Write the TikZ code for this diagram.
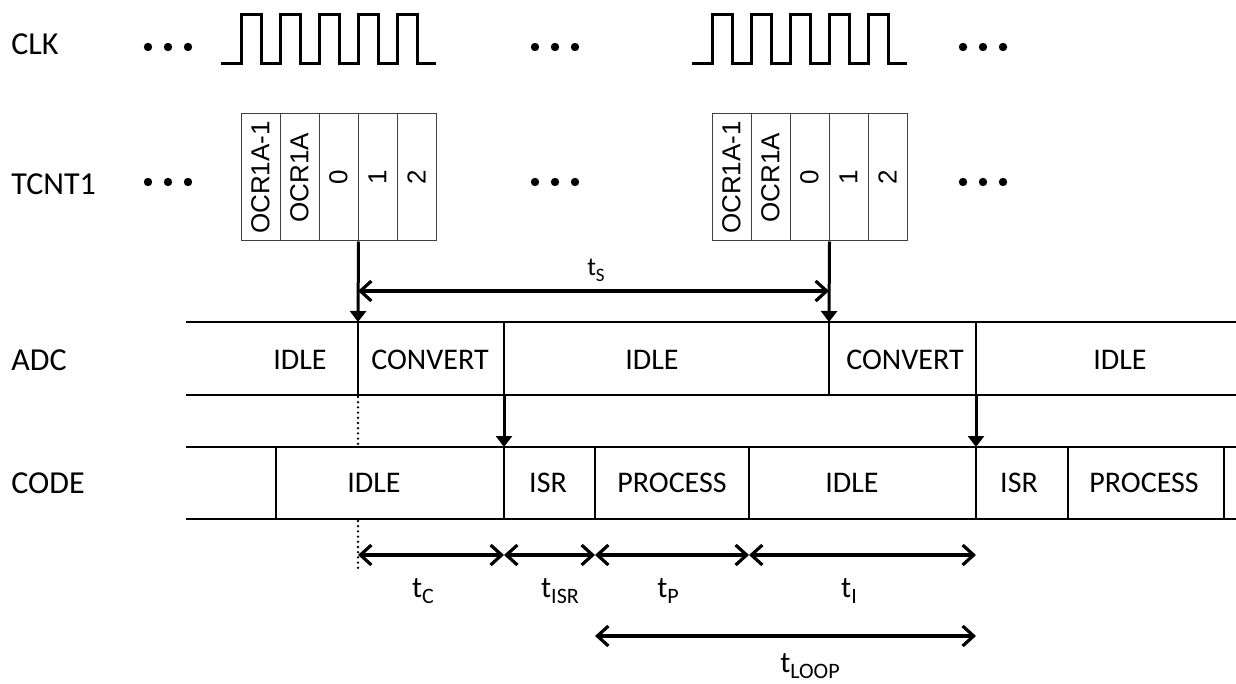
\documentclass[tikz,border=0pt]{standalone}
\usepackage{graphicx}
\usepackage{fontspec}
\setmainfont{Carlito}
\newfontfamily\cellfont{Liberation Sans}
\usetikzlibrary{arrows.meta}
% time label with lowered subscript
\newcommand{\tsub}[2][11pt]{t\raisebox{-0.23em}{\fontsize{#1}{#1}\selectfont #2}}

\begin{document}
\begin{tikzpicture}[x=0.5pt,y=-0.5pt,
    lbl/.style={anchor=west,inner sep=0pt,font=\fontsize{16}{18}\selectfont},
    state/.style={inner sep=0pt,font=\fontsize{15}{17}\selectfont},
    cell/.style={draw=black!75,line width=0.5pt,minimum width=19.5pt,
                 minimum height=63.5pt,inner sep=0pt,
                 font=\cellfont\fontsize{13}{13}\selectfont},
    tm/.style={anchor=base,inner sep=0pt,font=\fontsize{15}{17}\selectfont},
    wave/.style={line width=1.5pt,line join=miter},
    row/.style={line width=0.8pt},
    go/.style={-{Triangle[length=5.5pt,width=8pt]},line width=1.5pt},
    span/.style={{Straight Barb[length=5.5pt,width=10pt]}-{Straight Barb[length=5.5pt,width=10pt]},
                 line width=1.6pt}]
  \useasboundingbox (0,0) rectangle (1236,684);

  % signal names
  \node[lbl] (clk)  at (11,44)  {CLK};
  \node[lbl] (tcnt) at (11,184) {TCNT1};
  \node[lbl] (adc)  at (11,360) {ADC};
  \node[lbl] (code) at (11,483) {CODE};

  % dots
  \foreach \x in {148,535,963}
    \foreach \y in {47,182}
      \foreach \d in {0,20,40}
        \fill (\x+\d,\y) circle[radius=2.1pt];

  % clock bursts
  \draw[wave] (221,64) -- (241,64)
    \foreach \k in {1,...,5} {-- ++(0,-49) -- ++(20,0) -- ++(0,49) -- ++(19,0)};
  \draw[wave] (692,64) -- (712,64)
    \foreach \k in {1,...,5} {-- ++(0,-49) -- ++(20,0) -- ++(0,49) -- ++(19,0)};

  % counter values
  \foreach \t [count=\i] in {OCR1A-1,OCR1A,0,1,2} {
    \node[cell] (a\i) at (241+39*\i-19.5,177.5) {\rotatebox{90}{\t}};
    \node[cell] (b\i) at (712+39*\i-19.5,177.5) {\rotatebox{90}{\t}};
  }

  % ADC row
  \draw[row] (186,322) -- (1236,322) (186,395) -- (1236,395);
  \foreach \x in {358,504,829,976}
    \draw[row] (\x,322) -- (\x,395);
  \node[state] (aidle1) at (300,360)  {IDLE};
  \node[state] (conv1)  at (430,360)  {CONVERT};
  \node[state] (aidle2) at (652,360)  {IDLE};
  \node[state] (conv2)  at (905,360)  {CONVERT};
  \node[state] (aidle3) at (1120,360) {IDLE};

  % CODE row
  \draw[row] (186,447) -- (1236,447) (186,519) -- (1236,519);
  \foreach \x in {276,504,595,749,976,1068,1224}
    \draw[row] (\x,447) -- (\x,519);
  \node[state] (cidle1) at (374,483)  {IDLE};
  \node[state] (isr1)   at (548,483)  {ISR};
  \node[state] (proc1)  at (672,483)  {PROCESS};
  \node[state] (cidle2) at (852,483)  {IDLE};
  \node[state] (isr2)   at (1019,483) {ISR};
  \node[state] (proc2)  at (1144,483) {PROCESS};

  \coordinate (startA) at (358,322);
  \coordinate (startB) at (829,322);
  \coordinate (doneA)  at (504,395);
  \coordinate (doneB)  at (976,395);
  \coordinate (irqA)   at (504,447);
  \coordinate (irqB)   at (976,447);
  \draw[go] (a3.south east) -- (startA);
  \draw[go] (b3.south east) -- (startB);
  \draw[go] (doneA) -- (irqA);
  \draw[go] (doneB) -- (irqB);
  \draw[line width=1.3pt,line cap=round,dash pattern=on 0pt off 2.6pt]
    (358,397) -- (358,447) (358,521) -- (358,568);

  % sampling period
  \coordinate (sL) at (358,291);
  \coordinate (sR) at (829,291);
  \draw[span] (sL) -- (sR);
  \node[tm,font=\fontsize{13}{15}\selectfont] (tS) at (596,276) {\tsub[9.5pt]{S}};

  % timings
  \coordinate (m0) at (358,555);
  \coordinate (m1) at (504,555);
  \coordinate (m2) at (595,555);
  \coordinate (m3) at (749,555);
  \coordinate (m4) at (976,555);
  \coordinate (l0) at (595,636);
  \coordinate (l1) at (976,636);
  \draw[span] (m0) -- (m1);
  \draw[span] (m1) -- (m2);
  \draw[span] (m2) -- (m3);
  \draw[span] (m3) -- (m4);
  \draw[span] (l0) -- (l1);
  \node[tm] (tC)    at (423,597) {\tsub{C}};
  \node[tm] (tISR)  at (560,597) {\tsub{ISR}};
  \node[tm] (tP)    at (668,597) {\tsub{P}};
  \node[tm] (tI)    at (849,597) {\tsub{I}};
  \node[tm] (tLOOP) at (810,672) {\tsub{LOOP}};
\end{tikzpicture}
\end{document}
